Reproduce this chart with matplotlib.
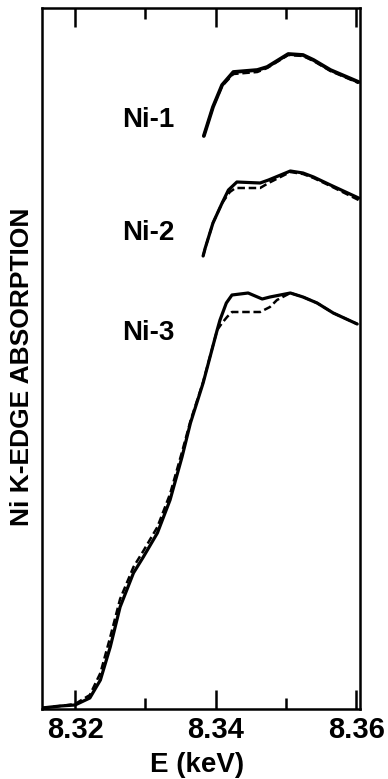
import matplotlib
matplotlib.use("Agg")
import matplotlib.pyplot as plt
from matplotlib.ticker import FixedLocator

plt.rcParams['font.family'] = ['Liberation Sans', 'DejaVu Sans']

# Ni K-edge spectra (arbitrary absorption units), solid and dashed traces
e_ni3 = [8.3153, 8.3179, 8.3200, 8.3221, 8.3236, 8.3250, 8.3264, 8.3283, 8.3297,
         8.3317, 8.3335, 8.3352, 8.3364, 8.3382, 8.3402, 8.3406, 8.3415, 8.3423,
         8.3446, 8.3456, 8.3466, 8.3477, 8.3506, 8.3524, 8.3544, 8.3567, 8.3601]
a_ni3 = [0.01, 0.03, 0.04, 0.11, 0.29, 0.62, 1.02, 1.36, 1.52,
         1.76, 2.09, 2.52, 2.86, 3.26, 3.79, 3.89, 4.06, 4.14,
         4.16, 4.13, 4.10, 4.12, 4.16, 4.12, 4.06, 3.96, 3.85]
e_ni3_d = [8.3153, 8.3179, 8.3200, 8.3221, 8.3236, 8.3250, 8.3264, 8.3283, 8.3297,
           8.3317, 8.3335, 8.3352, 8.3364, 8.3382, 8.3402, 8.3409, 8.3416, 8.3423,
           8.3463, 8.3477, 8.3487, 8.3506, 8.3524, 8.3544, 8.3567, 8.3601]
a_ni3_d = [0.01, 0.03, 0.05, 0.14, 0.36, 0.72, 1.10, 1.42, 1.58,
           1.82, 2.15, 2.57, 2.88, 3.27, 3.79, 3.86, 3.92, 3.97,
           3.97, 4.02, 4.09, 4.16, 4.12, 4.06, 3.96, 3.85]

e_ni2 = [8.3382, 8.3385, 8.3396, 8.3409, 8.3418, 8.3430, 8.3463, 8.3475,
         8.3506, 8.3524, 8.3539, 8.3563, 8.3603]
a_ni2 = [4.53, 4.61, 4.86, 5.06, 5.19, 5.27, 5.26, 5.29,
         5.38, 5.36, 5.32, 5.24, 5.11]
e_ni2_d = [8.3382, 8.3385, 8.3396, 8.3409, 8.3420, 8.3428, 8.3463, 8.3475,
           8.3506, 8.3524, 8.3539, 8.3563, 8.3603]
a_ni2_d = [4.53, 4.61, 4.86, 5.06, 5.17, 5.21, 5.21, 5.26,
           5.37, 5.35, 5.31, 5.23, 5.09]

e_ni1 = [8.3383, 8.3396, 8.3409, 8.3425, 8.3459, 8.3473, 8.3503, 8.3524,
         8.3539, 8.3563, 8.3603]
a_ni1 = [5.73, 6.02, 6.24, 6.37, 6.39, 6.42, 6.55, 6.54, 6.49, 6.39, 6.27]
a_ni1_d = [5.73, 6.02, 6.23, 6.35, 6.37, 6.41, 6.54, 6.53, 6.48, 6.38, 6.26]

labels = ['Ni-1', 'Ni-2', 'Ni-3']
label_e = [8.3304, 8.3304, 8.3304]
label_a = [5.89, 4.76, 3.76]

fig = plt.figure(figsize=(3.88, 7.79), dpi=100)
ax = fig.add_axes([42 / 388, 70 / 779, 318 / 388, 701 / 779])

lw = 2.3
dash = (0, (3, 1.5))
ax.plot(e_ni3, a_ni3, color='black', lw=lw, solid_capstyle='round')
ax.plot(e_ni3_d, a_ni3_d, color='black', lw=1.8, ls=dash)
ax.plot(e_ni2, a_ni2, color='black', lw=lw, solid_capstyle='round')
ax.plot(e_ni2_d, a_ni2_d, color='black', lw=1.8, ls=dash)
ax.plot(e_ni1, a_ni1, color='black', lw=lw + 0.4, solid_capstyle='round')
ax.plot(e_ni1, a_ni1_d, color='black', lw=1.8, ls=dash)

for name, x, y in zip(labels, label_e, label_a):
    ax.text(x, y, name, ha='center', va='center', fontsize=20, fontweight='bold')

ax.set_xlim(8.3153, 8.3605)
ax.set_ylim(0, 7.01)
ax.xaxis.set_major_locator(FixedLocator([8.32, 8.34, 8.36]))
ax.xaxis.set_minor_locator(FixedLocator([8.33, 8.35]))
ax.set_xticklabels(['8.32', '8.34', '8.36'])
ax.set_yticks([])
ax.tick_params(axis='x', which='major', direction='in', length=14, width=1.8,
               top=True, labelsize=21, pad=5)
ax.tick_params(axis='x', which='minor', direction='in', length=8, width=1.8, top=True)
for lab in ax.get_xticklabels():
    lab.set_fontweight('bold')
for sp in ax.spines.values():
    sp.set_linewidth(1.8)

fig.text(197 / 388, 1 - 772 / 779, 'E (keV)', ha='center', va='baseline',
         fontsize=20, fontweight='bold')
fig.text(22 / 388, 1 - 367 / 779, 'Ni K-EDGE ABSORPTION', ha='center', va='center',
         rotation=90, fontsize=19, fontweight='bold')

fig.savefig('out.png', dpi=100)
